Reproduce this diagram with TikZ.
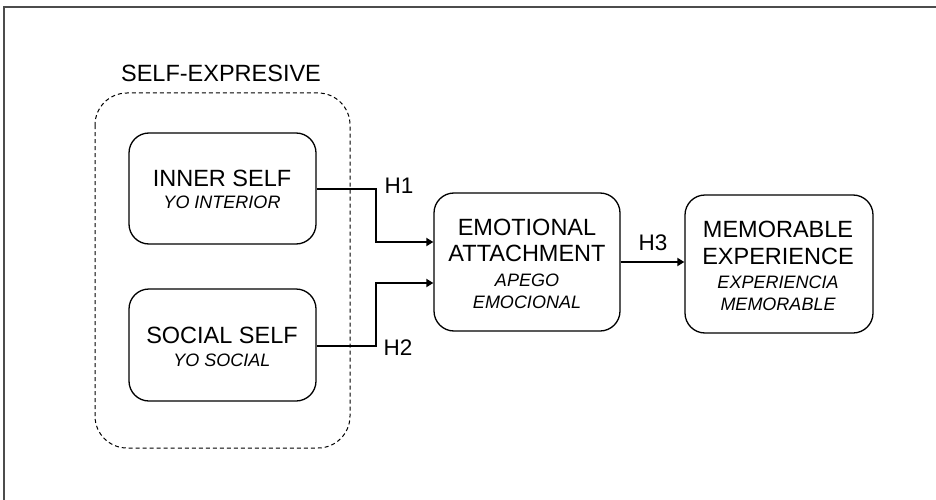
\documentclass[tikz,border=0pt]{standalone}
\usepackage{fontspec}
\setmainfont{Liberation Sans}
\usetikzlibrary{arrows.meta}
\begin{document}
\begin{tikzpicture}[x=1pt,y=-1pt,
  box/.style={draw=black,line width=1.3pt,rounded corners=20pt,inner sep=0pt},
  main/.style={anchor=base,inner sep=0pt,font=\fontsize{23.5}{26}\selectfont},
  sub/.style={anchor=base,inner sep=0pt,font=\fontsize{18}{21}\selectfont\itshape},
  hlab/.style={anchor=base,inner sep=0pt,font=\fontsize{22.5}{25}\selectfont},
  conn/.style={line width=2.6pt,-{Triangle[length=7pt,width=8pt]}}]
\useasboundingbox (0,0) rectangle (936,500);
% frame
\draw[gray!60!black,line width=1.8pt] (4,500) -- (4,7) -- (936,7);
% container
\draw[dashed,dash pattern=on 4pt off 3pt,line width=1pt,rounded corners=32pt] (95,93) rectangle (350,448);
\node[main] (lblself) at (221,82) {SELF-EXPRESIVE};
% boxes
\node[box,minimum width=187pt,minimum height=111pt] (inner) at (222.5,188.5) {};
\node[box,minimum width=187pt,minimum height=112pt] (social) at (222.5,345) {};
\node[box,minimum width=186pt,minimum height=138pt] (emo) at (527,262) {};
\node[box,minimum width=188pt,minimum height=138pt] (mem) at (779,264) {};
% texts
\node[main] (t1) at (222,186) {INNER SELF};
\node[sub] (t1b) at (222,208) {YO INTERIOR};
\node[main] (t2) at (222,343) {SOCIAL SELF};
\node[sub] (t2b) at (222,366) {YO SOCIAL};
\node[main] (t3) at (527,235) {EMOTIONAL};
\node[main] (t3b) at (527,261) {ATTACHMENT};
\node[sub] (t3c) at (527,286) {APEGO};
\node[sub] (t3d) at (527,308) {EMOCIONAL};
\node[main] (t4) at (778,237) {MEMORABLE};
\node[main] (t4b) at (778,264) {EXPERIENCE};
\node[sub] (t4c) at (778,288) {EXPERIENCIA};
\node[sub] (t4d) at (778,310) {MEMORABLE};
% connectors
\coordinate (e1) at (434,242);
\coordinate (e2) at (434,283);
\draw[conn] (inner.east |- 0,189) -| (376,242) -- (emo.west |- e1);
\draw[conn] (social.east |- 0,346) -| (376,283) -- (emo.west |- e2);
\draw[conn] (emo.east |- 0,262) -- (mem.west |- 0,262);
\node[hlab] (h1) at (399,193) {H1};
\node[hlab] (h2) at (398,355) {H2};
\node[hlab] (h3) at (653,250) {H3};
\end{tikzpicture}
\end{document}
